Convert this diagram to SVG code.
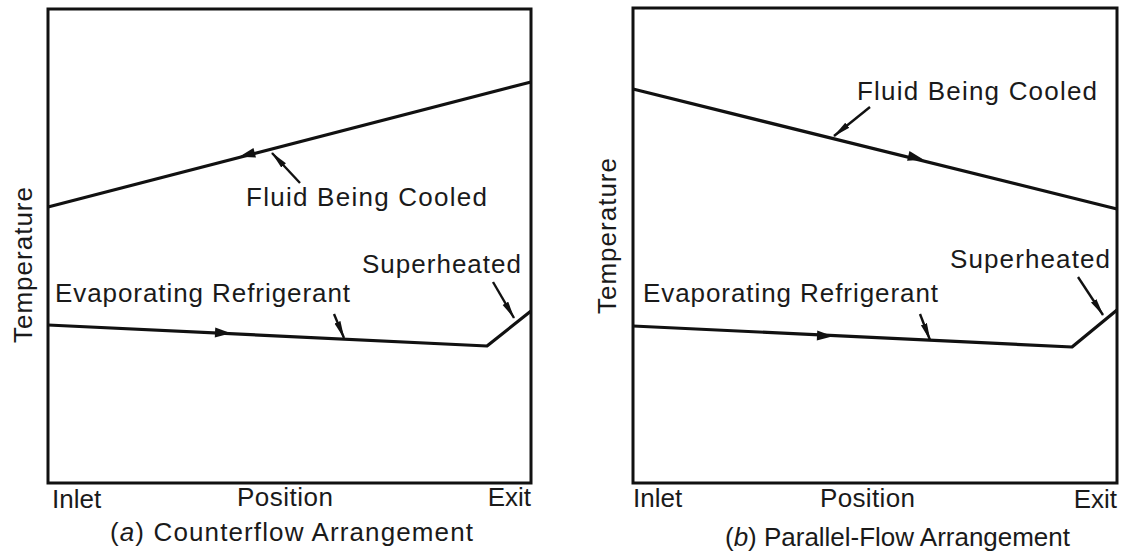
<svg xmlns="http://www.w3.org/2000/svg" xmlns:xlink="http://www.w3.org/1999/xlink" width="1124" height="556" viewBox="0 0 1124 556">
  <style>
    .frame { fill: none; stroke: #111; stroke-width: 3; }
    .curve { fill: none; stroke: #111; stroke-width: 3.2; stroke-linejoin: round; }
    .leader { fill: none; stroke: #111; stroke-width: 2.4; }
    .lbl { font-family: "Liberation Sans", Arial, sans-serif; font-size: 26px; fill: #1a1a1a; }
  </style>
  <defs>
    <marker id="lead" viewBox="0 0 18 8" refX="17" refY="4" markerWidth="18" markerHeight="8" markerUnits="userSpaceOnUse" orient="auto">
      <path d="M0,0.8 L18,4 L0,7.2 Z" fill="#111"/>
    </marker>
    <path id="flow" d="M7,0 L-9,-5 L-9,5 Z" fill="#111"/>
  </defs>
  <rect width="1124" height="556" fill="#fff"/>

  <g id="panel-a">
    <rect class="frame" x="48" y="9" width="483" height="474"/>
    <text class="lbl" transform="translate(32,265) rotate(-90)" text-anchor="middle" textLength="156" lengthAdjust="spacing">Temperature</text>
    <text class="lbl" x="52" y="508">Inlet</text>
    <text class="lbl" x="237" y="506" textLength="96" lengthAdjust="spacing">Position</text>
    <text class="lbl" x="531" y="506" text-anchor="end">Exit</text>
    <text class="lbl" x="110" y="541" textLength="363" lengthAdjust="spacing">(<tspan font-style="italic">a</tspan>) Counterflow Arrangement</text>
  </g>
  <g id="fluid-a">
    <text class="lbl" x="246" y="206" textLength="241" lengthAdjust="spacing">Fluid Being Cooled</text>
  </g>
  <g id="evap-a">
    <text class="lbl" x="55" y="302" textLength="295" lengthAdjust="spacing">Evaporating Refrigerant</text>
  </g>
  <g id="super-a">
    <text class="lbl" x="362" y="273" textLength="159" lengthAdjust="spacing">Superheated</text>
  </g>

  <g id="panel-b">
    <rect class="frame" x="633" y="8" width="484" height="475"/>
    <text class="lbl" transform="translate(616,236) rotate(-90)" text-anchor="middle" textLength="156" lengthAdjust="spacing">Temperature</text>
    <text class="lbl" x="633" y="507">Inlet</text>
    <text class="lbl" x="820" y="507" textLength="95" lengthAdjust="spacing">Position</text>
    <text class="lbl" x="1117" y="508" text-anchor="end">Exit</text>
    <text class="lbl" x="725" y="546" textLength="345" lengthAdjust="spacing">(<tspan font-style="italic">b</tspan>) Parallel-Flow Arrangement</text>
  </g>
  <g id="fluid-b">
    <text class="lbl" x="857" y="100" textLength="240" lengthAdjust="spacing">Fluid Being Cooled</text>
  </g>
  <g id="evap-b">
    <text class="lbl" x="643" y="302" textLength="295" lengthAdjust="spacing">Evaporating Refrigerant</text>
  </g>
  <g id="super-b">
    <text class="lbl" x="950" y="268" textLength="160" lengthAdjust="spacing">Superheated</text>
  </g>

  <g id="connectors">
    <polyline class="curve" points="48,207 531,82"/>
    <polyline class="curve" points="48,325 487,346 531,311"/>
    <use xlink:href="#flow" transform="translate(246,155) rotate(165.5)"/>
    <use xlink:href="#flow" transform="translate(224,333) rotate(2.7)"/>
    <line class="leader" x1="300" y1="183" x2="272" y2="153" marker-end="url(#lead)"/>
    <line class="leader" x1="334" y1="314" x2="344" y2="338" marker-end="url(#lead)"/>
    <line class="leader" x1="493" y1="282" x2="514" y2="318" marker-end="url(#lead)"/>

    <polyline class="curve" points="633,89 1117,209"/>
    <polyline class="curve" points="633,326 1072,347 1117,310"/>
    <use xlink:href="#flow" transform="translate(917,158) rotate(13.9)"/>
    <use xlink:href="#flow" transform="translate(826,336) rotate(2.7)"/>
    <line class="leader" x1="870" y1="107" x2="834" y2="136" marker-end="url(#lead)"/>
    <line class="leader" x1="920" y1="314" x2="930" y2="340" marker-end="url(#lead)"/>
    <line class="leader" x1="1078" y1="277" x2="1103" y2="315" marker-end="url(#lead)"/>
  </g>
</svg>
